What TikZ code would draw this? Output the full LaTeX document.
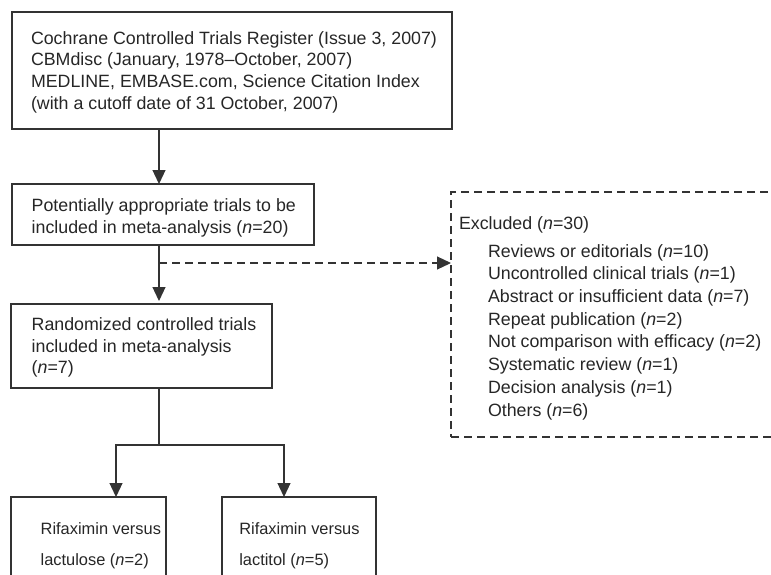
\documentclass[tikz,border=0pt]{standalone}
\usepackage{fontspec}
\setmainfont{Liberation Sans}
\usetikzlibrary{arrows.meta}
\begin{document}
\begin{tikzpicture}[x=1pt,y=-1pt,
  line/.style={draw=black!80, line width=1.2pt},
  box/.style={line, rectangle, inner sep=0pt, outer sep=0pt, anchor=north west},
  txt/.style={anchor=north west, inner sep=0pt, outer sep=0pt, align=left, text=black!85,
              font=\fontsize{17.8}{21.7}\selectfont},
  arr/.style={line, -{Triangle[length=14pt,width=13pt]}},
  dsh/.style={dash pattern=on 8pt off 5pt}]
\useasboundingbox (0,0) rectangle (771,574);
\clip (0,0) rectangle (771,574);

% boxes
\node[box, minimum width=440pt, minimum height=117pt] (src)  at (12,12)  {};
\node[box, minimum width=302pt, minimum height=61pt]  (cand) at (12,184) {};
\node[box, minimum width=261pt, minimum height=84pt]  (rct)  at (11,304) {};
\node[box, dsh, minimum width=400pt, minimum height=245pt] (excl) at (451,192) {};
\node[box, minimum width=155pt, minimum height=120pt] (lac)  at (11,497) {};
\node[box, minimum width=154pt, minimum height=120pt] (lit)  at (222,497) {};

% texts
\node[txt] (srct) at (31,31.2) {Cochrane Controlled Trials Register (Issue 3, 2007)\\
CBMdisc (January, 1978--October, 2007)\\
MEDLINE, EMBASE.com, Science Citation Index\\
(with a cutoff date of 31 October, 2007)};
\node[txt] (candt) at (31.7,198.6) {Potentially appropriate trials to be\\
included in meta-analysis (\textit{n}=20)};
\node[txt] (rctt) at (31.7,317.6) {Randomized controlled trials\\
included in meta-analysis\\
(\textit{n}=7)};
\node[txt] (exclt) at (459,216.2) {Excluded (\textit{n}=30)};
\node[txt, font=\fontsize{17.8}{22.7}\selectfont] (exclist) at (488,244.2) {Reviews or editorials (\textit{n}=10)\\
Uncontrolled clinical trials (\textit{n}=1)\\
Abstract or insufficient data (\textit{n}=7)\\
Repeat publication (\textit{n}=2)\\
Not comparison with efficacy (\textit{n}=2)\\
Systematic review (\textit{n}=1)\\
Decision analysis (\textit{n}=1)\\
Others (\textit{n}=6)};
\node[txt, font=\fontsize{16.4}{30.7}\selectfont] (lact) at (40.7,523) {Rifaximin versus\\
lactulose (\textit{n}=2)};
\node[txt, font=\fontsize{16.4}{30.7}\selectfont] (litt) at (239.3,523) {Rifaximin versus\\
lactitol (\textit{n}=5)};

% helper coordinates
\coordinate (ax) at (159,0);
\coordinate (dy) at (0,263);
\coordinate (sy) at (0,445);
\coordinate (lx) at (116,0);
\coordinate (rx) at (284,0);

% connectors
\draw[arr] (src.south -| ax) -- (cand.north -| ax);
\draw[arr, shorten >=3pt] (cand.south -| ax) -- (rct.north -| ax);
\draw[arr, dsh] (ax |- dy) -- (excl.west |- dy);
\draw[line] (rct.south -| ax) -- (ax |- sy);
\draw[arr] (ax |- sy) -| (lac.north -| lx);
\draw[arr] (ax |- sy) -| (lit.north -| rx);
\end{tikzpicture}
\end{document}
